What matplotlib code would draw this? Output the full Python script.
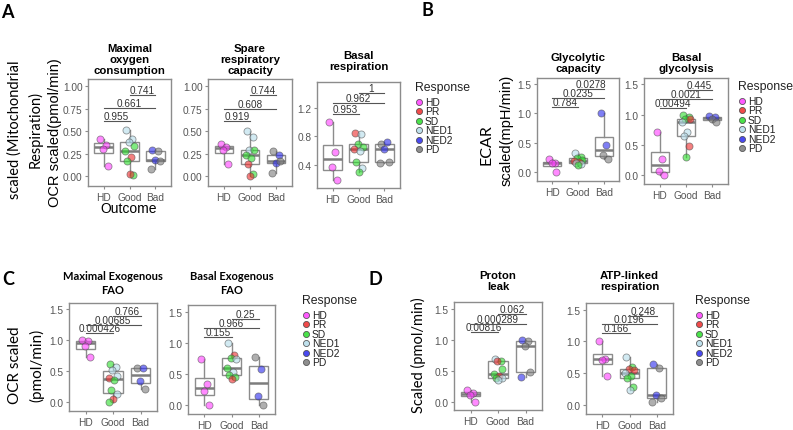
import numpy as np
import matplotlib.pyplot as plt

W, H = 793, 431

plt.rcParams['font.family'] = ['Liberation Sans', 'DejaVu Sans']

resp_colors = {'HD': '#ff3dff', 'PR': '#ee2b2b', 'SD': '#2bdd2b',
               'NED1': '#b4dcea', 'NED2': '#2a2aee', 'PD': '#7a7a7a'}
legend_labels = ['HD', 'PR', 'SD', 'NED1', 'NED2', 'PD']
outcome_labels = ['HD', 'Good', 'Bad']
outcome_of = {'HD': 0, 'PR': 1, 'SD': 1, 'NED1': 1, 'NED2': 2, 'PD': 2}

# ---- data ----
maxocr_resp = ['HD'] * 4 + ['NED1', 'NED1', 'NED1', 'SD', 'SD', 'PR', 'SD', 'SD', 'PR'] + ['NED2', 'PD', 'NED2', 'PD', 'PD']
maxocr_vals = [0.415, 0.35, 0.30, 0.107, 0.514, 0.418, 0.382, 0.336, 0.282, 0.21, 0.168, 0.007, 0.018, 0.293, 0.282, 0.175, 0.168, 0.079]
maxocr_p = ['0.955', '0.661', '0.741']

spare_resp = ['HD'] * 4 + ['NED1', 'NED1', 'NED1', 'SD', 'SD', 'SD', 'PR', 'SD', 'PR'] + ['PD', 'NED2', 'NED2', 'PD', 'PD']
spare_vals = [0.354, 0.329, 0.293, 0.132, 0.507, 0.436, 0.293, 0.293, 0.24, 0.204, 0.132, 0.025, 0.0, 0.28, 0.23, 0.15, 0.17, 0.04]
spare_p = ['0.919', '0.608', '0.744']

basal_resp = ['HD'] * 4 + ['PR', 'NED1', 'SD', 'SD', 'PR', 'NED1', 'SD', 'NED1', 'SD'] + ['PD', 'NED2', 'NED2', 'PD', 'PD']
basal_vals = [1.0, 0.583, 0.38, 0.188, 0.85, 0.84, 0.70, 0.655, 0.63, 0.60, 0.45, 0.357, 0.31, 0.70, 0.727, 0.62, 0.45, 0.43]
basal_p = ['0.953', '0.962', '1']

glycap_resp = ['HD'] * 4 + ['NED1', 'SD', 'SD', 'SD', 'PR', 'PR', 'NED1', 'NED1', 'SD'] + ['NED2', 'NED2', 'PD', 'PD']
glycap_vals = [0.226, 0.153, 0.153, 0.0, 0.328, 0.265, 0.24, 0.2, 0.19, 0.17, 0.16, 0.14, 0.12, 1.0, 0.463, 0.29, 0.226]
glycap_p = ['0.784', '0.0235', '0.0278']

glybas_resp = ['HD'] * 4 + ['SD', 'SD', 'SD', 'PR', 'NED1', 'NED1', 'NED1', 'PR', 'SD'] + ['NED2', 'NED2', 'PD', 'PD']
glybas_vals = [0.707, 0.272, 0.08, 0.0, 0.995, 0.96, 0.93, 0.92, 0.885, 0.72, 0.65, 0.49, 0.31, 0.975, 0.955, 0.92, 0.885]
glybas_p = ['0.00494', '0.0021', '0.445']

maxfao_resp = ['HD'] * 4 + ['SD', 'NED1', 'NED1', 'NED1', 'PR', 'SD', 'SD', 'NED1', 'PR', 'SD'] + ['PD', 'NED2', 'NED2', 'PD']
maxfao_vals = [1.0, 0.99, 0.9, 0.72, 0.62, 0.57, 0.52, 0.43, 0.39, 0.35, 0.2, 0.14, 0.06, 0.0, 0.55, 0.545, 0.34, 0.21]
maxfao_p = ['0.000426', '0.00685', '0.766']

basfao_resp = ['HD'] * 4 + ['NED1', 'PR', 'SD', 'NED1', 'SD', 'NED1', 'SD', 'SD', 'PR'] + ['PD', 'NED2', 'NED2', 'PD']
basfao_vals = [0.74, 0.34, 0.223, 0.0, 1.0, 0.815, 0.755, 0.74, 0.6, 0.54, 0.48, 0.447, 0.425, 0.77, 0.58, 0.144, 0.0]
basfao_p = ['0.155', '0.966', '0.25']

proton_resp = ['HD'] * 4 + ['NED1', 'SD', 'PR', 'SD', 'SD', 'PR', 'SD', 'NED1', 'NED1'] + ['NED2', 'PD', 'PD', 'PD', 'NED2']
proton_vals = [0.19, 0.145, 0.12, 0.0, 0.69, 0.665, 0.665, 0.527, 0.447, 0.42, 0.394, 0.383, 0.356, 1.0, 0.984, 0.9, 0.48, 0.41]
proton_p = ['0.00816', '0.000289', '0.062']

atp_resp = ['HD'] * 4 + ['NED1', 'SD', 'PR', 'PR', 'NED1', 'SD', 'SD', 'SD', 'NED1'] + ['NED2', 'PD', 'NED2', 'PD', 'PD']
atp_vals = [1.0, 0.73, 0.70, 0.456, 0.76, 0.6, 0.57, 0.54, 0.5, 0.46, 0.425, 0.285, 0.233, 0.648, 0.585, 0.145, 0.1, 0.036]
atp_p = ['0.166', '0.0196', '0.248']

jitter = [-0.12, 0.10, -0.02, 0.16, -0.16, 0.05, -0.08, 0.13, 0.0, -0.14]

fig = plt.figure(figsize=(W / 100, H / 100), dpi=100)


def ftext(x, y, s, **kw):
    return fig.text(x / W, 1 - y / H, s, **kw)


def px_axes(l, t, r, b):
    return fig.add_axes([l / W, 1 - b / H, (r - l) / W, (b - t) / H])


def panel(box, title, vals, resp, pvals, ylim, yticks, fmt, sig_y,
          title_y, title_font='Liberation Sans', title_size=8.2, ls=1.15):
    ax = px_axes(*box)
    vals = np.asarray(vals)
    grp = np.array([outcome_of[r] for r in resp])
    data = [vals[grp == g] for g in range(3)]
    ax.boxplot(data, positions=[1, 2, 3], widths=0.7, showfliers=False,
               showcaps=False, patch_artist=True,
               boxprops=dict(facecolor='none', edgecolor='#8c8c8c', lw=1),
               whiskerprops=dict(color='#8c8c8c', lw=1),
               medianprops=dict(color='#7d7d7d', lw=1.8), zorder=2)
    for g in range(3):
        idx = np.where(grp == g)[0]
        for k, i in enumerate(idx):
            ax.scatter(g + 1 + jitter[k % len(jitter)], vals[i], s=26,
                       color=resp_colors[resp[i]], alpha=0.6,
                       edgecolors='#505050', linewidths=0.6, zorder=3)
    pairs = [(1, 2), (1, 3), (2, 3)]
    for (a, b), p, y in zip(pairs, pvals, sig_y):
        ax.plot([a, b], [y, y], color='#555555', lw=0.8, zorder=4)
        ax.text((a + b) / 2, y, p, ha='center', va='bottom', fontsize=7.2,
                color='#333333', zorder=4)
    ax.set_xlim(0.4, 3.6)
    ax.set_ylim(*ylim)
    ax.set_xticks([1, 2, 3])
    ax.set_xticklabels(outcome_labels)
    ax.set_yticks(yticks)
    ax.set_yticklabels([fmt.format(t) for t in yticks])
    ax.tick_params(colors='#8c8c8c', labelcolor='#555555', labelsize=7.3,
                   length=2.5, width=0.8, pad=1.5)
    for sp in ax.spines.values():
        sp.set_color('#8c8c8c')
        sp.set_linewidth(1)
    cx = (box[0] + box[2]) / 2
    ftext(cx, title_y, title, ha='center', va='bottom', fontsize=title_size,
          fontweight='bold', family=title_font, linespacing=ls)
    return ax


def legend(x, y):
    ftext(x, y, 'Response', ha='left', va='center', fontsize=8.8, color='#222222')
    for k, lab in enumerate(legend_labels):
        yy = y + 15 + k * 9.4
        fig.add_artist(plt.Line2D([(x + 3.5) / W], [1 - yy / H], marker='o',
                                  ms=4.4, color=resp_colors[lab], mec='#444444',
                                  mew=0.6, alpha=0.85, lw=0))
        ftext(x + 10, yy, lab, ha='left', va='center', fontsize=7.4, color='#222222')


lato = 'Lato'

# ---- panel A ----
panel((88, 80, 171, 187), 'Maximal\noxygen\nconsumption', maxocr_vals, maxocr_resp, maxocr_p,
      (-0.11, 1.08), [0, 0.25, 0.5, 0.75, 1.0], '{:.2f}', [0.61, 0.76, 0.90], 76)
panel((208, 80, 292, 187), 'Spare\nrespiratory\ncapacity', spare_vals, spare_resp, spare_p,
      (-0.11, 1.08), [0, 0.25, 0.5, 0.75, 1.0], '{:.2f}', [0.61, 0.75, 0.90], 76)
panel((317, 83, 400, 189), 'Basal\nrespiration', basal_vals, basal_resp, basal_p,
      (0.08, 1.56), [0.4, 0.8, 1.2], '{:.1f}', [1.12, 1.27, 1.40], 72)
legend(415, 88)
ftext(7, 12, 'A', ha='center', va='center', fontsize=13, fontweight='bold', family=lato)
ftext(15, 130, 'scaled (Mitochondrial', rotation=90, ha='center', va='center', fontsize=10.5, family=lato)
ftext(35, 130, 'Respiration)', rotation=90, ha='center', va='center', fontsize=10.5, family=lato)
ftext(55, 133, 'OCR scaled(pmol/min)', rotation=90, ha='center', va='center', fontsize=10.5)
ftext(129, 209, 'Outcome', ha='center', va='center', fontsize=10)

# ---- panel B ----
panel((537, 79, 619, 182), 'Glycolytic\ncapacity', glycap_vals, glycap_resp, glycap_p,
      (-0.148, 1.60), [0, 0.5, 1.0, 1.5], '{:.1f}', [1.10, 1.26, 1.41], 74)
panel((644, 79, 728, 185), 'Basal\nglycolysis', glybas_vals, glybas_resp, glybas_p,
      (-0.14, 1.60), [0, 0.5, 1.0, 1.5], '{:.1f}', [1.10, 1.26, 1.41], 74)
legend(738, 87)
ftext(427, 11, 'B', ha='center', va='center', fontsize=13, fontweight='bold', family=lato)
ftext(487, 145, 'ECAR', rotation=90, ha='center', va='center', fontsize=11.5, family=lato)
ftext(507, 130, 'scaled(mpH/min)', rotation=90, ha='center', va='center', fontsize=10.5)

# ---- panel C ----
panel((69, 304, 157, 412), 'Maximal Exogenous\nFAO', maxfao_vals, maxfao_resp, maxfao_p,
      (-0.14, 1.595), [0, 0.5, 1.0, 1.5], '{:.1f}', [1.12, 1.245, 1.39], 296,
      title_font=lato, title_size=8, ls=1.35)
panel((188, 306, 275, 415), 'Basal Exogenous\nFAO', basfao_vals, basfao_resp, basfao_p,
      (-0.14, 1.61), [0, 0.5, 1.0, 1.5], '{:.1f}', [1.10, 1.24, 1.39], 296,
      title_font=lato, title_size=8, ls=1.35)
legend(302, 301)
ftext(8, 280, 'C', ha='center', va='center', fontsize=13, fontweight='bold', family=lato)
ftext(15, 365, 'OCR scaled', rotation=90, ha='center', va='center', fontsize=11, family=lato)
ftext(37, 365, '(pmol/min)', rotation=90, ha='center', va='center', fontsize=11, family=lato)

# ---- panel D ----
panel((454, 303, 542, 411), 'Proton\nleak', proton_vals, proton_resp, proton_p,
      (-0.128, 1.61), [0, 0.5, 1.0, 1.5], '{:.1f}', [1.12, 1.26, 1.41], 292)
panel((586, 304, 673, 415), 'ATP-linked\nrespiration', atp_vals, atp_resp, atp_p,
      (-0.15, 1.61), [0, 0.5, 1.0, 1.5], '{:.1f}', [1.13, 1.27, 1.41], 292)
legend(695, 301)
ftext(375, 280, 'D', ha='center', va='center', fontsize=13, fontweight='bold', family=lato)
ftext(418, 355, 'Scaled (pmol/min)', rotation=90, ha='center', va='center', fontsize=10.5, family=lato)

fig.savefig('out.png', dpi=100)
